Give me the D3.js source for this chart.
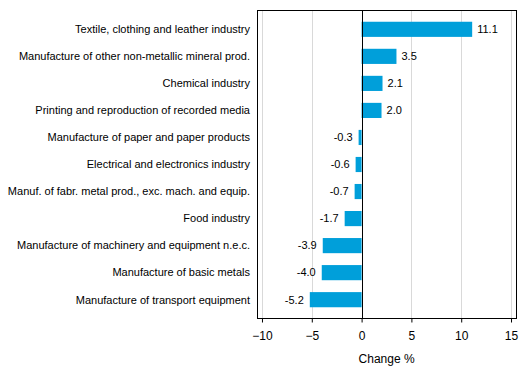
<!DOCTYPE html>
<html><head><meta charset="utf-8">
<script src="https://cdnjs.cloudflare.com/ajax/libs/d3/7.8.5/d3.min.js"></script>
<style>body{margin:0;background:#fff}svg{display:block;font-family:"Liberation Sans",Arial,sans-serif}</style>
</head><body>
<script>
const categories = [
  "Textile, clothing and leather industry",
  "Manufacture of other non-metallic mineral prod.",
  "Chemical industry",
  "Printing and reproduction of recorded media",
  "Manufacture of paper and paper products",
  "Electrical and electronics industry",
  "Manuf. of fabr. metal prod., exc. mach. and equip.",
  "Food industry",
  "Manufacture of machinery and equipment n.e.c.",
  "Manufacture of basic metals",
  "Manufacture of transport equipment"
];
const values = [11.1, 3.5, 2.1, 2.0, -0.3, -0.6, -0.7, -1.7, -3.9, -4.0, -5.2];
const xTicks = [-10, -5, 0, 5, 10, 15];
const axisTitle = "Change %";

(function () {
const W = 529, H = 378;
const pL = 257.5, pR = 516.5, pT = 10.5, pB = 318.5;
const svg = d3.select("body").append("svg").attr("width", W).attr("height", H);

const x = d3.scaleLinear().domain([-10.45, 15.55]).range([pL, pR]);
const y = d3.scaleBand().domain(categories).range([pT + 5.3, pB - 5.3]).paddingInner(0.44).paddingOuter(0.22);

// grid
svg.append("g").selectAll("line").data(xTicks.filter(d => d !== 0)).join("line")
  .attr("x1", d => Math.round(x(d)) + 0.5).attr("x2", d => Math.round(x(d)) + 0.5)
  .attr("y1", pT).attr("y2", pB).attr("stroke", "#d9d9d9").attr("stroke-width", 1);

// bars
svg.append("g").selectAll("rect").data(values).join("rect")
  .attr("x", d => x(Math.min(0, d)))
  .attr("width", d => Math.abs(x(d) - x(0)))
  .attr("y", (d, i) => y(categories[i]))
  .attr("height", y.bandwidth())
  .attr("fill", "#009fda");

// zero line
svg.append("line").attr("x1", Math.round(x(0)) + 0.5).attr("x2", Math.round(x(0)) + 0.5)
  .attr("y1", pT).attr("y2", pB).attr("stroke", "#000").attr("stroke-width", 1);

// frame
svg.append("rect").attr("x", pL).attr("y", pT).attr("width", pR - pL).attr("height", pB - pT)
  .attr("fill", "none").attr("stroke", "#000").attr("stroke-width", 1);

// x axis
const xAxis = d3.axisBottom(x).tickValues(xTicks).tickSize(4).tickSizeOuter(0).tickPadding(9);
const ax = svg.append("g").attr("transform", `translate(0,${pB})`).call(xAxis);
ax.select(".domain").remove();
ax.selectAll("text").attr("font-size", 12).attr("fill", "#000").attr("font-family", "'Liberation Sans',Arial,sans-serif");
ax.selectAll("line").attr("stroke", "#000");

// category labels
svg.append("g").selectAll("text").data(categories).join("text")
  .attr("x", 250).attr("y", d => y(d) + y.bandwidth() / 2).attr("dy", "0.35em")
  .attr("text-anchor", "end").attr("font-size", 11).attr("fill", "#000").text(d => d);

// value labels
svg.append("g").selectAll("text").data(values).join("text")
  .attr("x", d => d >= 0 ? x(d) + 5 : x(d) - 6)
  .attr("y", (d, i) => y(categories[i]) + y.bandwidth() / 2).attr("dy", "0.35em")
  .attr("text-anchor", d => d >= 0 ? "start" : "end")
  .attr("font-size", 11).attr("fill", "#000").text(d => d.toFixed(1));

// axis title
svg.append("text").attr("x", x(0) + 25).attr("y", 363).attr("text-anchor", "middle")
  .attr("font-size", 12).attr("fill", "#000").text(axisTitle);
})();
</script>
</body></html>
